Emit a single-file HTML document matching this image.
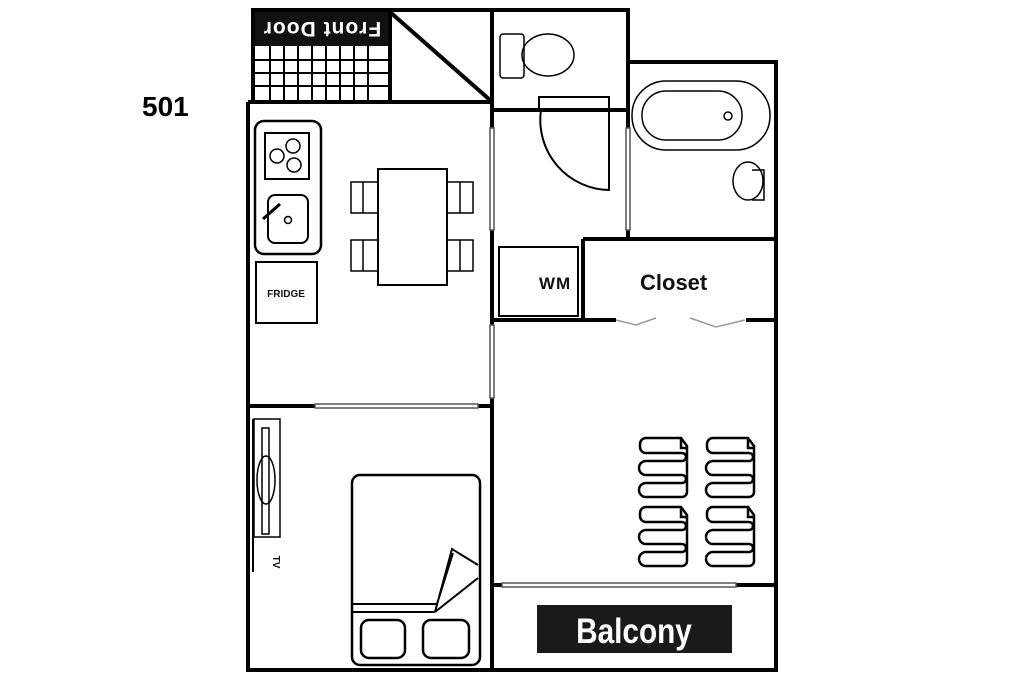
<!DOCTYPE html>
<html><head><meta charset="utf-8"><style>
html,body{margin:0;padding:0;background:#fff;width:1024px;height:683px;overflow:hidden}
svg{display:block}
text{font-family:"Liberation Sans",sans-serif;font-weight:bold}
</style></head><body>
<svg width="1024" height="683" viewBox="0 0 1024 683" xmlns="http://www.w3.org/2000/svg">
<rect width="1024" height="683" fill="#fff"/>
<text x="142" y="116" font-size="28" fill="#000">501</text>
<g fill="none" stroke="#000" stroke-width="4">
<rect x="253" y="10" width="137" height="92"/>
<rect x="390" y="10" width="102" height="92"/>
<line x1="390" y1="12" x2="490" y2="100"/>
<rect x="492" y="10" width="136" height="100"/>
<polyline points="248,102 248,670 776,670 776,62 628,62"/>
<line x1="248" y1="102" x2="492" y2="102"/>
<line x1="492" y1="102" x2="492" y2="128"/>
<line x1="492" y1="230" x2="492" y2="325"/>
<line x1="492" y1="398" x2="492" y2="670"/>
<line x1="628" y1="10" x2="628" y2="128"/>
<line x1="628" y1="230" x2="628" y2="240"/>
<line x1="583" y1="239" x2="776" y2="239"/>
<line x1="583" y1="239" x2="583" y2="320"/>
<line x1="492" y1="320" x2="616" y2="320"/>
<line x1="746" y1="320" x2="776" y2="320"/>
<line x1="248" y1="406" x2="315" y2="406"/>
<line x1="478" y1="406" x2="492" y2="406"/>
<line x1="492" y1="585" x2="502" y2="585"/>
<line x1="736" y1="585" x2="776" y2="585"/>
</g>
<rect x="255" y="12" width="133" height="34" fill="#111"/>
<text x="322" y="38" font-size="21" fill="#fff" text-anchor="middle" letter-spacing="1" transform="rotate(180 322 30)">Front Door</text>
<g stroke="#000" stroke-width="2">
<line x1="255" y1="60" x2="388" y2="60"/><line x1="255" y1="73" x2="388" y2="73"/><line x1="255" y1="86" x2="388" y2="86"/>
<line x1="270" y1="46" x2="270" y2="100"/><line x1="284" y1="46" x2="284" y2="100"/><line x1="298" y1="46" x2="298" y2="100"/><line x1="312" y1="46" x2="312" y2="100"/><line x1="326" y1="46" x2="326" y2="100"/><line x1="340" y1="46" x2="340" y2="100"/><line x1="354" y1="46" x2="354" y2="100"/><line x1="368" y1="46" x2="368" y2="100"/>
</g>
<g fill="none" stroke="#000" stroke-width="1.5">
<rect x="500" y="34" width="24" height="44" rx="3"/>
<ellipse cx="548" cy="55" rx="26" ry="21"/>
<rect x="539" y="97" width="70" height="13" stroke-width="2"/>
<path d="M541,110 A70,70 0 0 0 609,190 L609,110" stroke-width="2"/>
<rect x="632" y="81" width="138" height="69" rx="34"/>
<rect x="642" y="91" width="100" height="49" rx="24"/>
<circle cx="728" cy="116" r="4"/>
<ellipse cx="748" cy="181" rx="15" ry="19"/>
<path d="M752,170 h12 v30 h-12"/>
<rect x="490" y="128" width="4" height="102" stroke="#555"/>
<rect x="626" y="128" width="4" height="102" stroke="#555"/>
<rect x="490" y="325" width="4" height="73" stroke="#555"/>
<rect x="315" y="404" width="163" height="4" stroke="#555"/>
<rect x="502" y="583" width="234" height="4" stroke="#555"/>
<rect x="255" y="121" width="66" height="133" rx="9" stroke-width="2.5"/>
<rect x="265" y="133" width="44" height="46" stroke-width="2"/>
<circle cx="293" cy="146" r="7"/><circle cx="277" cy="156" r="7"/><circle cx="294" cy="165" r="7"/>
<rect x="268" y="195" width="40" height="48" rx="7" stroke-width="2"/>
<circle cx="288" cy="220" r="3.5"/>
<line x1="263" y1="219" x2="280" y2="204" stroke-width="3"/>
<rect x="256" y="262" width="61" height="61" stroke-width="2"/>
<rect x="378" y="169" width="69" height="116" stroke-width="2"/>
<rect x="351" y="182" width="27" height="31"/><line x1="363" y1="182" x2="363" y2="213"/>
<rect x="351" y="240" width="27" height="31"/><line x1="363" y1="240" x2="363" y2="271"/>
<rect x="447" y="182" width="26" height="31"/><line x1="460" y1="182" x2="460" y2="213"/>
<rect x="447" y="240" width="26" height="31"/><line x1="460" y1="240" x2="460" y2="271"/>
<rect x="499" y="247" width="79" height="69" stroke-width="2"/>
<polyline points="616,320 636,325 656,318" stroke="#999"/>
<polyline points="690,318 716,327 745,320" stroke="#999"/>
<rect x="254" y="419" width="26" height="118"/>
<rect x="262" y="428" width="7" height="106"/>
<ellipse cx="266" cy="480" rx="9" ry="24"/>
<line x1="253" y1="419" x2="253" y2="572" stroke-width="2"/>
<rect x="352" y="475" width="128" height="190" rx="8" stroke-width="2.5"/>
<line x1="352" y1="604" x2="437" y2="604" stroke-width="2"/>
<line x1="352" y1="612" x2="435" y2="612" stroke-width="2"/>
<path d="M435,612 L452,549 L478,565 M437,604 L453,553 M435,612 L478,578" stroke-width="2"/>
<rect x="361" y="620" width="44" height="38" rx="8" stroke-width="2.5"/>
<rect x="423" y="620" width="46" height="38" rx="8" stroke-width="2.5"/>
</g>
<g fill="none" stroke="#000" stroke-width="2.5">
<g id="c"><path d="M646,438 h35 l6,8 v46 a5,5 0 0 1-5,5 h-36 a7,7 0 0 1 0,-14 h36 a4,4 0 0 0 0,-8 h-36 a7,7 0 0 1 0,-14 h36 a4,4 0 0 0 0,-8 h-36 a6,6 0 0 1-6,-6 v-3 a6,6 0 0 1 6,-6z M681,438 v10 h6"/></g>
<use href="#c" x="67"/><use href="#c" y="69"/><use href="#c" x="67" y="69"/>
</g>
<text x="539" y="289" font-size="17" fill="#111" letter-spacing="1">WM</text>
<text x="286" y="297" font-size="10" fill="#111" text-anchor="middle">FRIDGE</text>
<text x="640" y="290" font-size="22" fill="#111">Closet</text>
<text x="267" y="556" font-size="10" fill="#111" text-anchor="middle" transform="rotate(90 267 562)">TV</text>
<rect x="537" y="605" width="195" height="48" fill="#1a1a1a"/>
<text x="0" y="0" font-size="35" fill="#fff" text-anchor="middle" transform="translate(634 643) scale(0.85 1)">Balcony</text>
</svg>
</body></html>
